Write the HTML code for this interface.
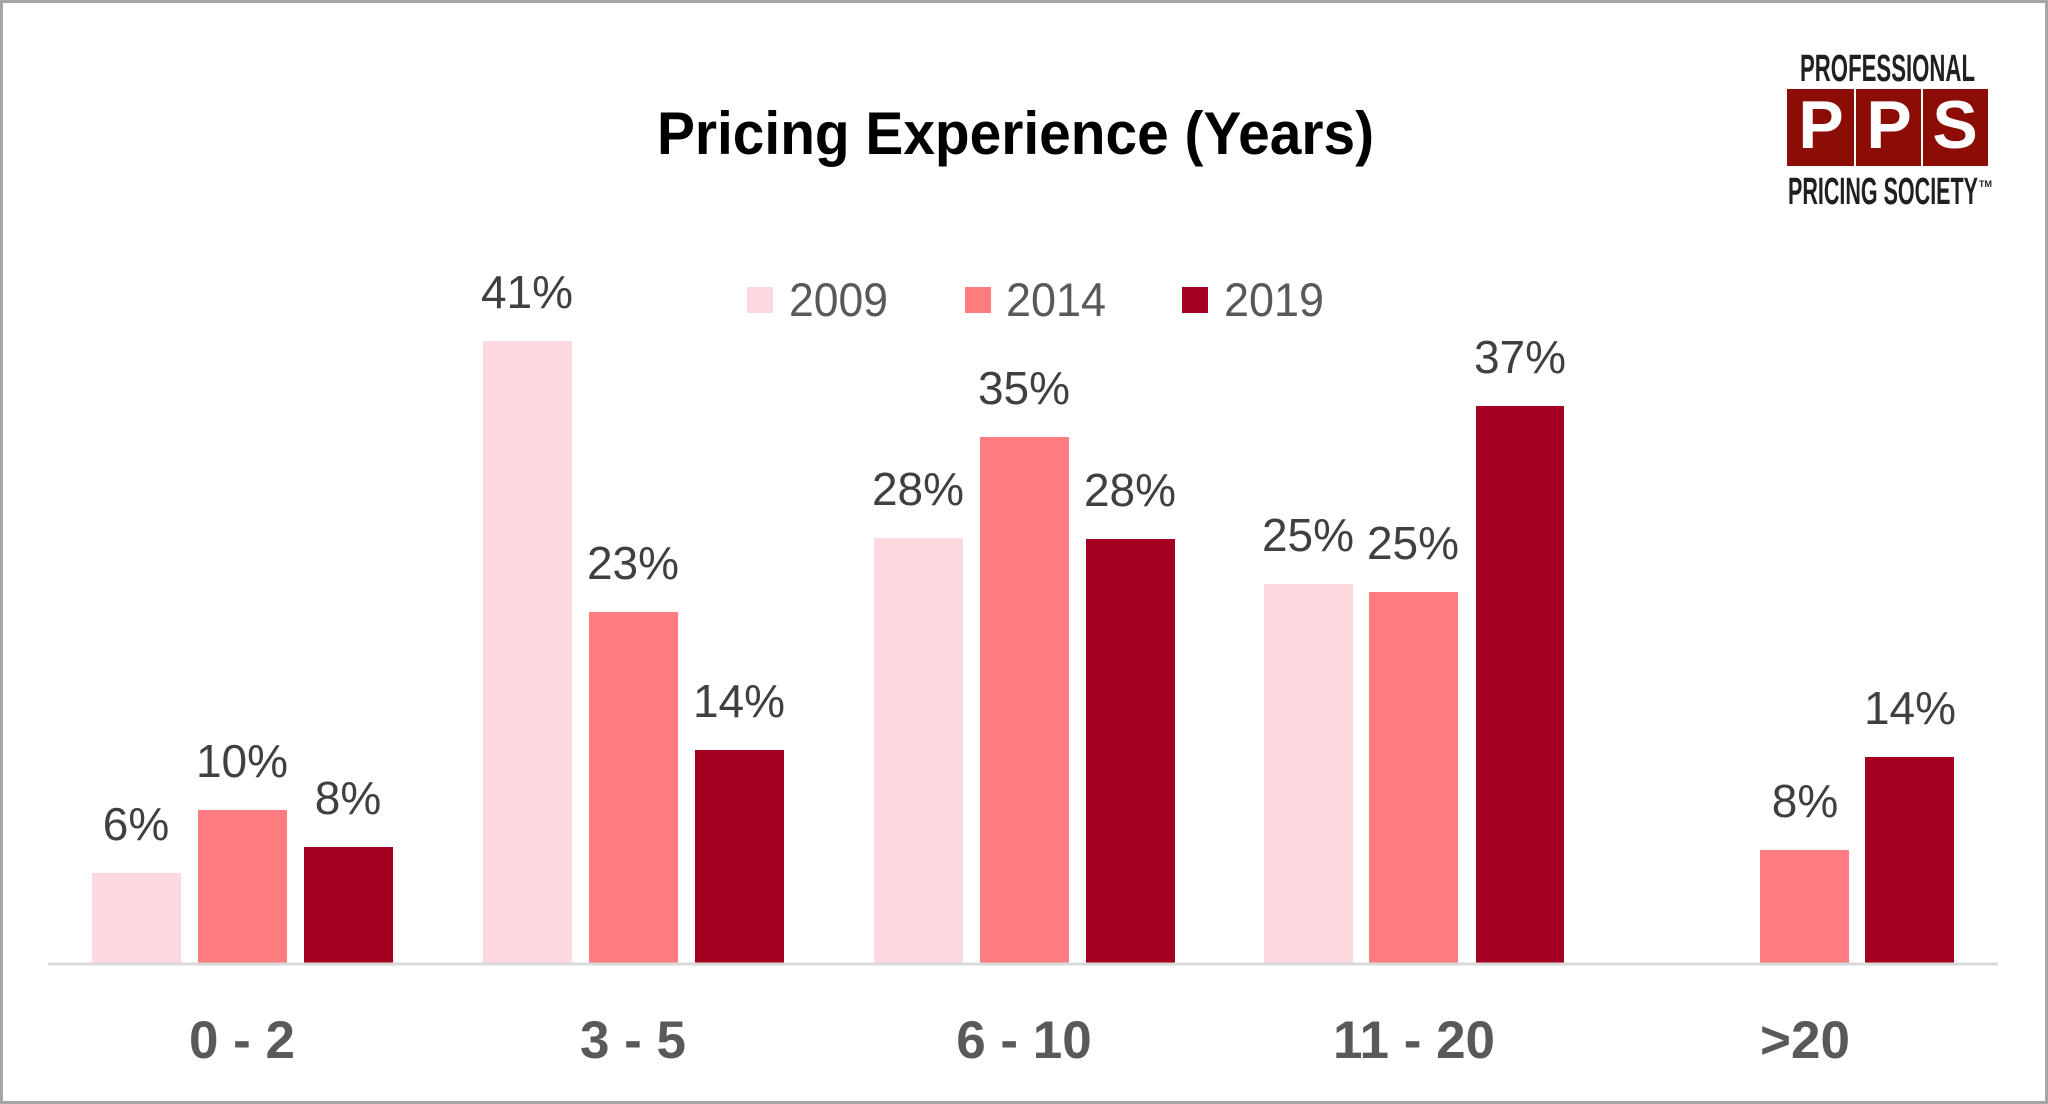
<!DOCTYPE html>
<html><head><meta charset="utf-8"><style>
html,body{margin:0;padding:0;background:#fff;}
svg{display:block;}
</style></head><body>
<svg width="2048" height="1104" viewBox="0 0 2048 1104" xmlns="http://www.w3.org/2000/svg" font-family="Liberation Sans, sans-serif">
<rect x="0" y="0" width="2048" height="1104" fill="#fff"/>
<rect x="1.5" y="1.5" width="2045" height="1101" fill="none" stroke="#a6a6a6" stroke-width="3"/>

<text x="657" y="154" font-size="60" font-weight="bold" fill="#000" textLength="717" lengthAdjust="spacingAndGlyphs">Pricing Experience (Years)</text>

<g font-size="47" fill="#595959">
<rect x="747" y="287" width="26" height="26" fill="#fdd8df"/>
<text x="789" y="316" textLength="99" lengthAdjust="spacingAndGlyphs">2009</text>
<rect x="965" y="287" width="26" height="26" fill="#ff7c80"/>
<text x="1006" y="316" textLength="100" lengthAdjust="spacingAndGlyphs">2014</text>
<rect x="1182" y="287" width="26" height="26" fill="#a50021"/>
<text x="1224" y="316" textLength="100" lengthAdjust="spacingAndGlyphs">2019</text>
</g>

<!-- bars -->
<g>
<rect x="92" y="873" width="89" height="90" fill="#fdd8df"/>
<rect x="198" y="810" width="89" height="153" fill="#ff7c80"/>
<rect x="304" y="847" width="89" height="116" fill="#a50021"/>

<rect x="483" y="341" width="89" height="622" fill="#fdd8df"/>
<rect x="589" y="612" width="89" height="351" fill="#ff7c80"/>
<rect x="695" y="750" width="89" height="213" fill="#a50021"/>

<rect x="874" y="538" width="89" height="425" fill="#fdd8df"/>
<rect x="980" y="437" width="89" height="526" fill="#ff7c80"/>
<rect x="1086" y="539" width="89" height="424" fill="#a50021"/>

<rect x="1264" y="584" width="89" height="379" fill="#fdd8df"/>
<rect x="1369" y="592" width="89" height="371" fill="#ff7c80"/>
<rect x="1476" y="406" width="88" height="557" fill="#a50021"/>

<rect x="1760" y="850" width="89" height="113" fill="#ff7c80"/>
<rect x="1865" y="757" width="89" height="206" fill="#a50021"/>
</g>
<line x1="48" y1="964" x2="1998" y2="964" stroke="#d9d9d9" stroke-width="3"/>

<g font-size="46" fill="#404040" text-anchor="middle">
<text x="136" y="840">6%</text>
<text x="242" y="777">10%</text>
<text x="348" y="814">8%</text>
<text x="527" y="308">41%</text>
<text x="633" y="579">23%</text>
<text x="739" y="717">14%</text>
<text x="918" y="505">28%</text>
<text x="1024" y="404">35%</text>
<text x="1130" y="506">28%</text>
<text x="1308" y="551">25%</text>
<text x="1413" y="559">25%</text>
<text x="1520" y="373">37%</text>
<text x="1805" y="817">8%</text>
<text x="1910" y="724">14%</text>
</g>

<g font-size="53" font-weight="bold" fill="#595959" text-anchor="middle">
<text x="242" y="1058">0 - 2</text>
<text x="633" y="1058">3 - 5</text>
<text x="1024" y="1058">6 - 10</text>
<text x="1414" y="1058">11 - 20</text>
<text x="1805" y="1058">&gt;20</text>
</g>

<!-- logo -->
<g>
<text x="1800" y="81" font-size="38" font-weight="bold" fill="#231f20" textLength="175" lengthAdjust="spacingAndGlyphs">PROFESSIONAL</text>
<rect x="1787" y="89" width="201" height="77" fill="#8b0d06"/>
<line x1="1855" y1="89" x2="1855" y2="166" stroke="#fff" stroke-width="2"/>
<line x1="1922" y1="89" x2="1922" y2="166" stroke="#fff" stroke-width="2"/>
<g font-size="68" font-weight="bold" fill="#fff" text-anchor="middle">
<text x="1821" y="148">P</text>
<text x="1889" y="148">P</text>
<text x="1955" y="148">S</text>
</g>
<text x="1788" y="204" font-size="38" font-weight="bold" fill="#231f20" textLength="190" lengthAdjust="spacingAndGlyphs">PRICING SOCIETY</text>
<text x="1979" y="187" font-size="9" font-weight="bold" fill="#231f20">TM</text>
</g>
</svg>
</body></html>
